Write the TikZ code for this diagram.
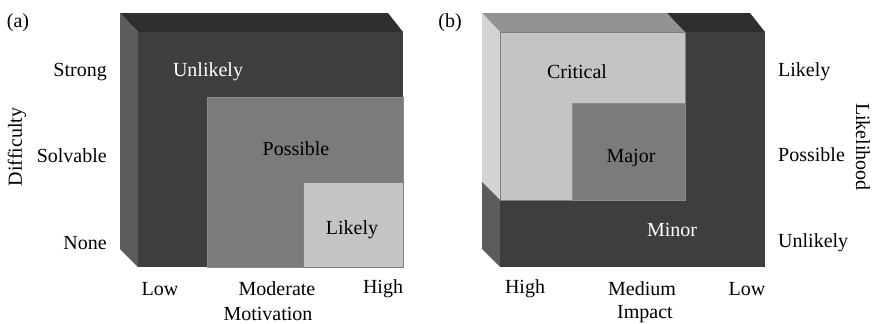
\documentclass[tikz,border=0pt]{standalone}
\usepackage{fontspec}
\setmainfont{Liberation Serif}
\definecolor{topdark}{HTML}{2F2F2F}
\definecolor{frontdark}{HTML}{3E3E3E}
\definecolor{sidegray}{HTML}{5C5C5C}
\definecolor{midgray}{HTML}{7B7B7B}
\definecolor{lightfill}{HTML}{C4C4C4}
\definecolor{topmid}{HTML}{939393}
\definecolor{sidelight}{HTML}{D3D3D3}
\definecolor{edgegray}{HTML}{8C8C8C}
\begin{document}
\begin{tikzpicture}[x=1pt,y=-1pt,
  lbl/.style={font=\fontsize{20}{22}\selectfont, inner sep=0pt, text=black},
  wlbl/.style={lbl, text=white},
  face/.style={draw=edgegray, line width=0.6pt}]
\useasboundingbox (0,0) rectangle (873,324);
% ---------- panel (a) ----------
\fill[topdark] (120,13) -- (388,13) -- (403,32) -- (138,32) -- cycle;
\fill[sidegray] (120,13) -- (138,32) -- (138,267) -- (120,249) -- cycle;
\fill[frontdark] (138,32) rectangle (403,267);
\filldraw[face, fill=midgray] (207,97) rectangle (403,267);
\filldraw[face, draw=gray, fill=lightfill] (303,182) rectangle (403,267);
\node[lbl] (pa) at (18,23) {(a)};
\node[wlbl] (unl) at (208,72) {Unlikely};
\node[lbl] (pos) at (296,149) {Possible};
\node[lbl] (lik) at (352,230) {Likely};
\node[lbl, anchor=east] (strong) at (107,72) {Strong};
\node[lbl, anchor=east] (solv) at (107,156) {Solvable};
\node[lbl, anchor=east] (none) at (107,243) {None};
\node[lbl, rotate=90] (diff) at (17,147) {Difficulty};
\node[lbl] (low) at (160,289) {Low};
\node[lbl] (mod) at (277,289) {Moderate};
\node[lbl] (high) at (383,289) {High};
\node[lbl] (mot) at (268,314) {Motivation};
% ---------- panel (b) ----------
\fill[topmid] (482,13) -- (667,13) -- (685,32) -- (500,32) -- cycle;
\fill[topdark] (667,13) -- (750,13) -- (765,32) -- (685,32) -- cycle;
\fill[sidelight] (482,13) -- (500,32) -- (500,200) -- (482,182) -- cycle;
\fill[sidegray] (482,182) -- (500,200) -- (500,267) -- (482,249) -- cycle;
\fill[frontdark] (500,32) rectangle (765,267);
\filldraw[face, draw=gray, fill=lightfill] (500,32) rectangle (685,200);
\filldraw[face, fill=midgray] (572,103) rectangle (685,200);
\node[lbl] (pb) at (450,23) {(b)};
\node[lbl] (crit) at (577,72) {Critical};
\node[lbl] (maj) at (631,158) {Major};
\node[wlbl] (min) at (672,230) {Minor};
\node[lbl, anchor=west] (rlik) at (778,72) {Likely};
\node[lbl, anchor=west] (rpos) at (778,155) {Possible};
\node[lbl, anchor=west] (runl) at (778,243) {Unlikely};
\node[lbl, rotate=-90] (likh) at (863,147) {Likelihood};
\node[lbl] (bhigh) at (525,289) {High};
\node[lbl] (bmed) at (642,289) {Medium};
\node[lbl] (blow) at (747,289) {Low};
\node[lbl] (imp) at (645,314) {Impact};
\end{tikzpicture}
\end{document}
